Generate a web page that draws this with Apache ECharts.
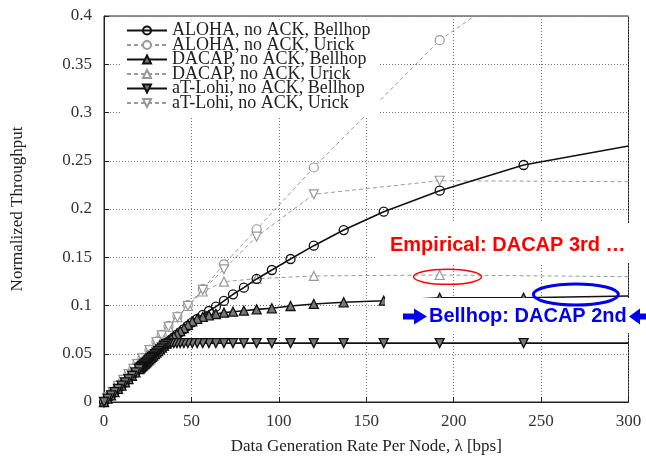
<!DOCTYPE html>
<html>
<head>
<meta charset="utf-8">
<script src="https://cdn.jsdelivr.net/npm/echarts@6/dist/echarts.min.js"></script>
<style>
  html, body { margin: 0; padding: 0; background: #fff; }
  #chart { width: 646px; height: 461px; }
</style>
</head>
<body>
<div id="chart"></div>
<script>
// Offered load per node (bps) for the Bellhop runs
const rateBellhop = [240, 192, 160, 137.1, 120, 106.7, 96, 87.3, 80, 73.8, 68.6, 64, 60, 56.5, 53.3, 50.5, 48,
  45.7, 43.6, 41.7, 40, 38.4, 36.9, 35.6, 34.3, 33.1, 32, 31, 30, 29.1, 28.2, 27.4, 26.7, 25.9, 25.3, 24.6, 24,
  23.4, 22.9, 22.3, 21.8, 21.3, 20.9, 20.4, 20, 18, 16, 14, 12, 10, 8, 6, 4, 2, 0];

const alohaBellhop = [0.2456, 0.219, 0.1972, 0.1782, 0.162, 0.1482, 0.1368, 0.1275, 0.1185, 0.1116, 0.1047, 0.0988,
  0.0943, 0.0902, 0.086, 0.0825, 0.079, 0.0755, 0.0725, 0.0698, 0.0672, 0.0648, 0.0625, 0.0604, 0.0583, 0.0563,
  0.0545, 0.0528, 0.0511, 0.0496, 0.0481, 0.0467, 0.0455, 0.0441, 0.0431, 0.0419, 0.0409, 0.0398, 0.039, 0.038,
  0.0371, 0.0363, 0.0356, 0.0347, 0.034, 0.0306, 0.0272, 0.0238, 0.0204, 0.017, 0.0136, 0.0102, 0.0068, 0.0034, 0];

const dacapBellhop = [0.108, 0.108, 0.105, 0.1033, 0.1016, 0.0995, 0.0971, 0.096, 0.0946, 0.0936, 0.0926, 0.0912,
  0.0898, 0.0882, 0.0862, 0.0835, 0.08, 0.0765, 0.0735, 0.0705, 0.0678, 0.0652, 0.0627, 0.0605, 0.0584, 0.0564,
  0.0545, 0.0528, 0.0511, 0.0496, 0.0481, 0.0467, 0.0455, 0.0441, 0.0431, 0.0419, 0.0409, 0.0398, 0.039, 0.038,
  0.0371, 0.0363, 0.0356, 0.0347, 0.034, 0.0306, 0.0272, 0.0238, 0.0204, 0.017, 0.0136, 0.0102, 0.0068, 0.0034, 0];

const tlohiBellhop = [0.061, 0.061, 0.061, 0.061, 0.061, 0.061, 0.061, 0.061, 0.061, 0.061, 0.061, 0.061,
  0.061, 0.061, 0.061, 0.061, 0.061, 0.061, 0.061, 0.061, 0.061, 0.061, 0.0608, 0.06, 0.0583, 0.0563,
  0.0545, 0.0528, 0.0511, 0.0496, 0.0481, 0.0467, 0.0455, 0.0441, 0.0431, 0.0419, 0.0409, 0.0398, 0.039, 0.038,
  0.0371, 0.0363, 0.0356, 0.0347, 0.034, 0.0306, 0.0272, 0.0238, 0.0204, 0.017, 0.0136, 0.0102, 0.0068, 0.0034, 0];

// Offered load per node (bps) for the Urick runs
const rateUrick = [192, 120, 87.3, 68.6, 56.5, 48, 42, 36.9, 33, 30, 26, 22, 19, 16.8, 14, 11, 8, 5, 2.5, 0];

const alohaUrick = [0.375, 0.243, 0.179, 0.1427, 0.117, 0.1005, 0.0885, 0.0788, 0.0695, 0.0625, 0.054, 0.0455,
  0.0395, 0.0345, 0.029, 0.023, 0.0168, 0.0105, 0.0052, 0];
const dacapUrick = [0.1316, 0.1306, 0.1278, 0.1247, 0.1145, 0.0995, 0.0878, 0.078, 0.069, 0.0622, 0.0538, 0.0453,
  0.0393, 0.0344, 0.029, 0.023, 0.0168, 0.0105, 0.0052, 0];
const tlohiUrick = [0.2293, 0.2152, 0.1713, 0.1375, 0.1161, 0.0995, 0.0878, 0.078, 0.069, 0.0622, 0.0538, 0.0453,
  0.0393, 0.0344, 0.029, 0.023, 0.0168, 0.0105, 0.0052, 0];

// Where each curve continues past its last plotted sample (order: series order below)
const tailRate = [300, 240, 300, 300, 300, 300];
const tailValue = [0.2653, 0.435, 0.1098, 0.1299, 0.061, 0.2283];

const seriesNames = ['ALOHA, no ACK, Bellhop', 'ALOHA, no ACK, Urick', 'DACAP, no ACK, Bellhop',
  'DACAP, no ACK, Urick', 'aT-Lohi, no ACK, Bellhop', 'aT-Lohi, no ACK, Urick'];

const xTicks = { min: 0, max: 300, step: 50 };
const yTicks = { min: 0, max: 0.4, step: 0.05 };

const SERIF = '"Liberation Serif", "DejaVu Serif", serif';
const SANS = '"Liberation Sans", Arial, sans-serif';

function pairs(xs, ys, i) {
  const d = xs.map((x, k) => [x, ys[k]]);
  d.unshift({ value: [tailRate[i], tailValue[i]], symbol: 'none' });
  return d;
}

const bellStyle = (fill) => ({
  type: 'line', z: 4,
  symbolSize: 9,
  lineStyle: { color: '#111', width: 1.6, type: 'solid' },
  itemStyle: { color: fill, borderColor: '#111', borderWidth: 1.3 }
});
const urickStyle = () => ({
  type: 'line', z: 3,
  symbolSize: 9,
  lineStyle: { color: '#9a9a9a', width: 1, type: [4, 3] },
  itemStyle: { color: '#fff', borderColor: '#999', borderWidth: 1.2 }
});

const series = [
  Object.assign(bellStyle('rgba(255,255,255,0)'), { name: seriesNames[0], symbol: 'circle', data: pairs(rateBellhop, alohaBellhop, 0) }),
  Object.assign(urickStyle(), { name: seriesNames[1], symbol: 'circle', data: pairs(rateUrick, alohaUrick, 1) }),
  Object.assign(bellStyle('#777'), { name: seriesNames[2], symbol: 'triangle', data: pairs(rateBellhop, dacapBellhop, 2) }),
  Object.assign(urickStyle(), { name: seriesNames[3], symbol: 'triangle', data: pairs(rateUrick, dacapUrick, 3) }),
  Object.assign(bellStyle('#777'), { name: seriesNames[4], symbol: 'triangle', symbolRotate: 180, data: pairs(rateBellhop, tlohiBellhop, 4) }),
  Object.assign(urickStyle(), { name: seriesNames[5], symbol: 'triangle', symbolRotate: 180, data: pairs(rateUrick, tlohiUrick, 5) })
];

const chart = echarts.init(document.getElementById('chart'), null, { renderer: 'canvas' });

chart.setOption({
  animation: false,
  backgroundColor: '#fff',
  grid: { left: 104, right: 17.5, top: 16, bottom: 59, show: true, borderColor: '#222', borderWidth: 1, backgroundColor: 'transparent' },
  legend: {
    data: seriesNames,
    orient: 'vertical',
    left: 120, top: 19.5,
    itemWidth: 40, itemHeight: 10, itemGap: -3.5,
    padding: [2, 8, 4, 6],
    backgroundColor: '#fff',
    selectedMode: false,
    textStyle: { fontFamily: SERIF, fontSize: 18, color: '#222' }
  },
  xAxis: {
    type: 'value', min: xTicks.min, max: xTicks.max, interval: xTicks.step,
    name: 'Data Generation Rate Per Node, λ [bps]', nameLocation: 'middle', nameGap: 36,
    nameTextStyle: { fontFamily: SERIF, fontSize: 17, color: '#222' },
    axisLine: { show: true, lineStyle: { color: '#222' } },
    axisTick: { show: true, inside: true, length: 5, lineStyle: { color: '#222' } },
    axisLabel: { fontFamily: SERIF, fontSize: 17, color: '#333', margin: 11 },
    splitLine: { show: true, lineStyle: { color: '#777', type: [1, 2], width: 1 } }
  },
  yAxis: {
    type: 'value', min: yTicks.min, max: yTicks.max, interval: yTicks.step,
    name: 'Normalized Throughput', nameLocation: 'middle', nameGap: 78, nameRotate: 90,
    nameTextStyle: { fontFamily: SERIF, fontSize: 17, color: '#222' },
    axisLine: { show: true, lineStyle: { color: '#222' } },
    axisTick: { show: true, inside: true, length: 5, lineStyle: { color: '#222' } },
    axisLabel: { fontFamily: SERIF, fontSize: 17, color: '#333', margin: 12,
      formatter: (v) => String(Math.round(v * 100) / 100) },
    splitLine: { show: true, lineStyle: { color: '#777', type: [1, 2], width: 1 } }
  },
  series: series
});

// Annotation overlay: text panels, highlight rings and arrows
const p = (x, y) => chart.convertToPixel({ gridIndex: 0 }, [x, y]);
const redRing = p(196.5, 0.1297);
const blueRing = p(269.9, 0.1114);

chart.setOption({
  graphic: [
    { type: 'rect', z: 100, shape: { x: 377, y: 223, width: 269, height: 40 }, style: { fill: '#fff' } },
    { type: 'rect', z: 100, shape: { x: 385, y: 298, width: 261, height: 35 }, style: { fill: '#fff' } },
    { type: 'text', z: 101, x: 390, y: 245,
      style: { text: 'Empirical: DACAP 3rd …', fill: '#ff0000', font: 'bold 20px ' + SANS, verticalAlign: 'middle' } },
    { type: 'ellipse', z: 101, shape: { cx: redRing[0], cy: redRing[1], rx: 34, ry: 7.5 },
      style: { fill: 'none', stroke: '#ff0000', lineWidth: 1.5 } },
    { type: 'ellipse', z: 101, shape: { cx: blueRing[0], cy: blueRing[1], rx: 42.5, ry: 10.5 },
      style: { fill: 'none', stroke: '#0000ee', lineWidth: 3 } },
    { type: 'text', z: 101, x: 429, y: 316,
      style: { text: 'Bellhop: DACAP 2nd', fill: '#0000ee', font: 'bold 20px ' + SANS, verticalAlign: 'middle' } },
    { type: 'polygon', z: 101,
      shape: { points: [[403, 313.5], [414, 313.5], [414, 308.5], [427, 316.5], [414, 324.5], [414, 319.5], [403, 319.5]] },
      style: { fill: '#0000ee' } },
    { type: 'polygon', z: 101,
      shape: { points: [[646, 313.5], [640, 313.5], [640, 308.5], [629, 316.5], [640, 324.5], [640, 319.5], [646, 319.5]] },
      style: { fill: '#0000ee' } }
  ]
});
</script>
</body>
</html>
